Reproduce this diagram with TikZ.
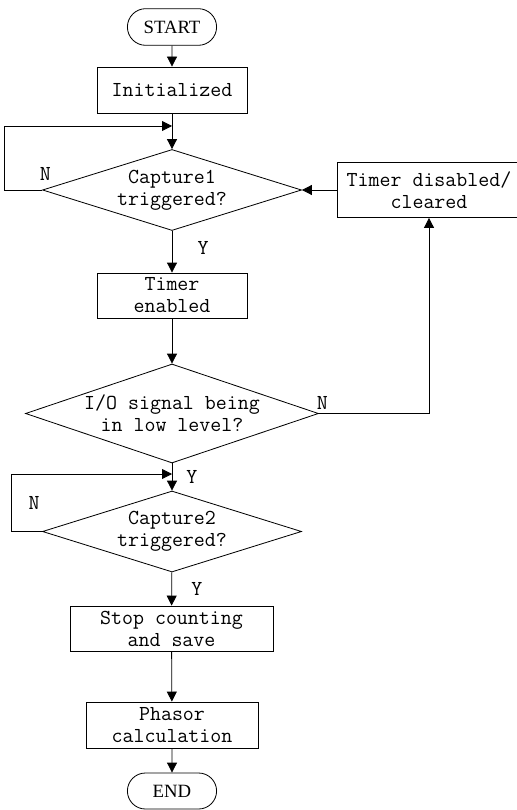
\documentclass[tikz,border=0pt]{standalone}
\usepackage{fontspec}
\newfontfamily\termfont{Liberation Serif}
\usetikzlibrary{positioning, arrows.meta, shapes}

\tikzset{
	terminal/.style={draw, rounded rectangle, minimum width=29.1mm, minimum height=11mm, font=\termfont\fontsize{16}{18.8}\selectfont},
	process/.style={draw, rectangle, align=center, minimum width=45mm, minimum height=13.8mm, inner sep=0pt},
	decision/.style={draw, diamond, inner sep=0pt, minimum width=77.7mm, minimum height=24.3mm}
}

\begin{document}
\begin{tikzpicture}[
		x=0.3mm, y=-0.3mm,
		>={Triangle[length=3mm, width=3mm]},
		line width=0.7pt,
		font=\ttfamily\fontsize{18.2}{18.8}\selectfont
	]

	\useasboundingbox (0, 0) rectangle (516, 810);

	\node[terminal] (start) at (172, 27) {START};
	\node[process] (init) at (172, 90) {Initialized};
	\node[decision, label={[name=cap1txt, align=center]center:Capture1\\triggered?}] (cap1) at (172, 190) {};
	\node[process, minimum width=55.2mm, minimum height=16.5mm] (disab) at (429, 190) {Timer disabled/\\cleared};
	\node[process, minimum height=13.5mm] (tenab) at (172, 295.5) {Timer\\enabled};
	\node[decision, minimum width=87.9mm, minimum height=29.7mm, label={[name=iotxt, align=center]center:I/O signal being\\in low level?}] (io) at (172, 413.5) {};
	\node[decision, label={[name=cap2txt, align=center]center:Capture2\\triggered?}] (cap2) at (172, 531.5) {};
	\node[process, minimum width=60.9mm, minimum height=13.5mm] (stop) at (171.5, 628.5) {Stop counting\\and save};
	\node[process, minimum width=51.6mm] (phasor) at (172, 725) {Phasor\\calculation};
	\node[terminal, minimum height=10.8mm] (end) at (172, 791) {END};

	\coordinate (j1) at (172, 126);
	\coordinate (l1) at (4, 126);
	\coordinate (j2) at (172, 474);
	\coordinate (l2) at (11, 474);

	\draw [->] (start) -- (init);
	\draw [->] (init) -- (cap1);
	\draw [->] (cap1.west) node [above=1.5mm, xshift=1mm] (n1) {N} -| (l1) -- (j1);
	\draw [->] (cap1) -- node [pos=0.42, right=6.4mm] (y1) {Y} (tenab);
	\draw [->] (disab) -- (cap1);
	\draw [->] (tenab) -- (io);
	\draw [->] (io.east) node [above, xshift=1mm] (n2) {N} -| (disab.south);
	\draw [->] (io) -- node [right=3mm] (y2) {Y} (cap2);
	\draw [->] (cap2.west) node [above=5.4mm, xshift=-2.4mm] (n3) {N} -| (l2) -- (j2);
	\draw [->] (cap2) -- node [right=4.6mm] (y3) {Y} (stop);
	\draw [->] (stop) -- (phasor);
	\draw [->] (phasor) -- (end);

\end{tikzpicture}
\end{document}
